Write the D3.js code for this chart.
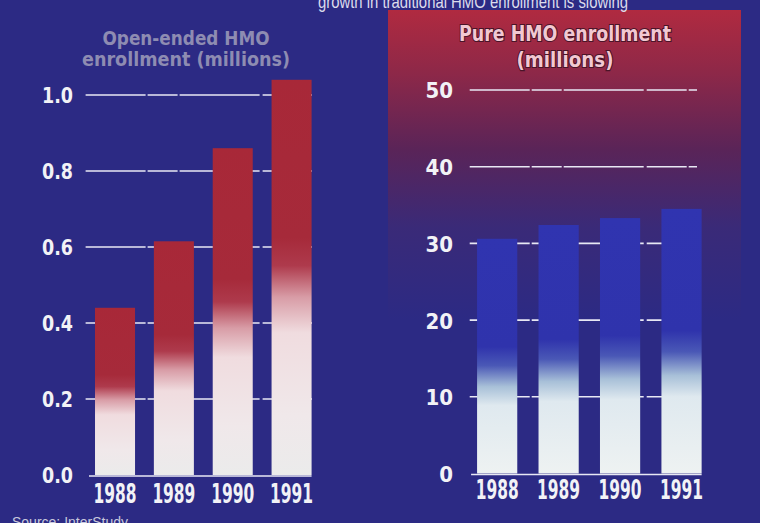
<!DOCTYPE html>
<html><head><meta charset="utf-8">
<script src="https://cdn.jsdelivr.net/npm/d3@7"></script>
<style>
html,body{margin:0;padding:0;background:#2c2a84;}
svg{display:block;}
</style></head>
<body>
<svg id="chart" width="760" height="523"></svg>
<script>
// ---- data ----
const years = ["1988", "1989", "1990", "1991"];
const openEndedValues = [0.44, 0.615, 0.86, 1.04];   // millions
const pureHmoValues = [30.6, 32.4, 33.3, 34.5];       // millions
const leftTicks = [0.0, 0.2, 0.4, 0.6, 0.8, 1.0];
const rightTicks = [0, 10, 20, 30, 40, 50];
const leftTitle = ["Open-ended HMO", "enrollment (millions)"];
const rightTitle = ["Pure HMO enrollment", "(millions)"];
const topTitle = "growth in traditional HMO enrollment is slowing";
const sourceText = "Source: InterStudy";

const svg = d3.select("#chart");
const W = 760, H = 523;
const numFont = "'DejaVu Sans Condensed','Liberation Sans Narrow','Roboto',sans-serif";

const defs = svg.append("defs");
const pg = defs.append("linearGradient").attr("id","panelGrad").attr("x1",0).attr("y1",0).attr("x2",0).attr("y2",1);
[[0,"#b02a40"],[0.2,"#8e2848"],[0.45,"#5a2458"],[0.7,"#3a2a78"],[1,"#2c2a84"]].forEach(s=>pg.append("stop").attr("offset",s[0]).attr("stop-color",s[1]));
const rg = defs.append("linearGradient").attr("id","redGrad").attr("x1",0).attr("y1",0).attr("x2",0).attr("y2",1);
[[0,"#a82838"],[0.4,"#a62a3a"],[0.47,"#ae3a4c"],[0.55,"#d89ca6"],[0.64,"#f0dcdf"],[0.85,"#f0e8ea"],[1,"#ebebeb"]].forEach(s=>rg.append("stop").attr("offset",s[0]).attr("stop-color",s[1]));
const bg = defs.append("linearGradient").attr("id","blueGrad").attr("x1",0).attr("y1",0).attr("x2",0).attr("y2",1);
[[0,"#3034b0"],[0.46,"#2f33ac"],[0.54,"#4a58b6"],[0.63,"#a8c0d8"],[0.71,"#dfe9ef"],[1,"#eef2f2"]].forEach(s=>bg.append("stop").attr("offset",s[0]).attr("stop-color",s[1]));

svg.append("rect").attr("width",W).attr("height",H).attr("fill","#2c2a84");
svg.append("rect").attr("x",388).attr("y",10).attr("width",353).attr("height",310).attr("fill","url(#panelGrad)");

// top (clipped) title
svg.append("text").attr("x",318).attr("y",8).attr("textLength",310).attr("lengthAdjust","spacingAndGlyphs")
  .attr("font-family","'Liberation Sans','Arial',sans-serif").attr("font-size",19).attr("fill","#dcdcec").text(topTitle);

function panel(opts){
  const {x0,x1,padIn,padOut,y0,y1,domainMax,values,ticks,fmt,grad,labelX,gridEnd,labelLen,yearDy} = opts;
  const x = d3.scaleBand().domain(years).range([x0,x1]).paddingInner(padIn).paddingOuter(padOut);
  const y = d3.scaleLinear().domain([0,domainMax]).range([y0,y1]);
  const g = svg.append("g");
  g.selectAll("line.grid").data(ticks.filter(t=>t>0)).join("line")
    .attr("x1",x0).attr("x2",gridEnd).attr("y1",d=>y(d)).attr("y2",d=>y(d))
    .attr("stroke","#e8e8f4").attr("stroke-width",1.6).attr("stroke-dasharray","60 2 30 2 80 3 40 2");
  g.selectAll("rect.bar").data(values).join("rect")
    .attr("x",(d,i)=>x(years[i])).attr("width",x.bandwidth())
    .attr("y",d=>y(d)).attr("height",d=>y(0)-y(d))
    .attr("fill",grad);
  g.append("line").attr("x1",x(years[0])-6).attr("x2",x(years[3])+x.bandwidth()).attr("y1",y(0)+1).attr("y2",y(0)+1)
    .attr("stroke","#e8e8f4").attr("stroke-width",1.5);
  const yAxis = d3.axisLeft(y).tickValues(ticks).tickFormat(fmt).tickSize(0).tickPadding(0);
  const ga = svg.append("g").attr("transform",`translate(${labelX},0)`).call(yAxis);
  ga.select(".domain").remove();
  ga.selectAll("text").attr("font-family",numFont).attr("font-weight","bold").attr("font-size",22)
    .attr("fill","#f2f2f6").attr("dy","0.36em")
    .attr("textLength",labelLen).attr("lengthAdjust","spacingAndGlyphs");
  const xAxis = d3.axisBottom(x).tickSize(0).tickPadding(0);
  const gx = svg.append("g").attr("transform",`translate(0,${y0+8})`).call(xAxis);
  gx.select(".domain").remove();
  gx.selectAll("text").attr("font-family",numFont).attr("font-weight","bold").attr("font-size",26)
    .attr("fill","#f2f2f6").attr("dy",yearDy)
    .attr("textLength",43).attr("lengthAdjust","spacingAndGlyphs");
  return {x,y};
}

panel({x0:85.6,x1:321,padIn:0.32,padOut:0.16,y0:475,y1:95,domainMax:1.0,values:openEndedValues,
  ticks:leftTicks,fmt:d3.format(".1f"),grad:"url(#redGrad)",labelX:73,gridEnd:312,labelLen:31,yearDy:"0.78em"});
panel({x0:469.7,x1:709,padIn:0.346,padOut:0.12,y0:473.5,y1:90,domainMax:50,values:pureHmoValues,
  ticks:rightTicks,fmt:d3.format("d"),grad:"url(#blueGrad)",labelX:453,gridEnd:697,labelLen:null,yearDy:"0.66em"});

// left title
const ltLen = [167, 208];
svg.append("g").selectAll("text").data(leftTitle).join("text")
  .attr("x",186).attr("y",(d,i)=>45+i*21).attr("text-anchor","middle")
  .attr("font-family",numFont).attr("font-weight","bold").attr("font-size",19)
  .attr("textLength",(d,i)=>ltLen[i]).attr("lengthAdjust","spacingAndGlyphs")
  .attr("fill","#8e8cb2").text(d=>d);

// right title
const rtLen = [212, 97];
svg.append("g").selectAll("text").data(rightTitle).join("text")
  .attr("x",565).attr("y",(d,i)=>41+i*26).attr("text-anchor","middle")
  .attr("font-family",numFont).attr("font-weight","bold").attr("font-size",22)
  .attr("textLength",(d,i)=>rtLen[i]).attr("lengthAdjust","spacingAndGlyphs")
  .attr("fill","#f2c8d2").attr("stroke","#4a1428").attr("stroke-width",2.2).attr("paint-order","stroke")
  .text(d=>d);

// source
svg.append("text").attr("x",12).attr("y",527).attr("font-family","'Liberation Sans',Arial,sans-serif")
  .attr("font-size",14).attr("fill","#c8c8dc").text(sourceText);
</script>
</body></html>
